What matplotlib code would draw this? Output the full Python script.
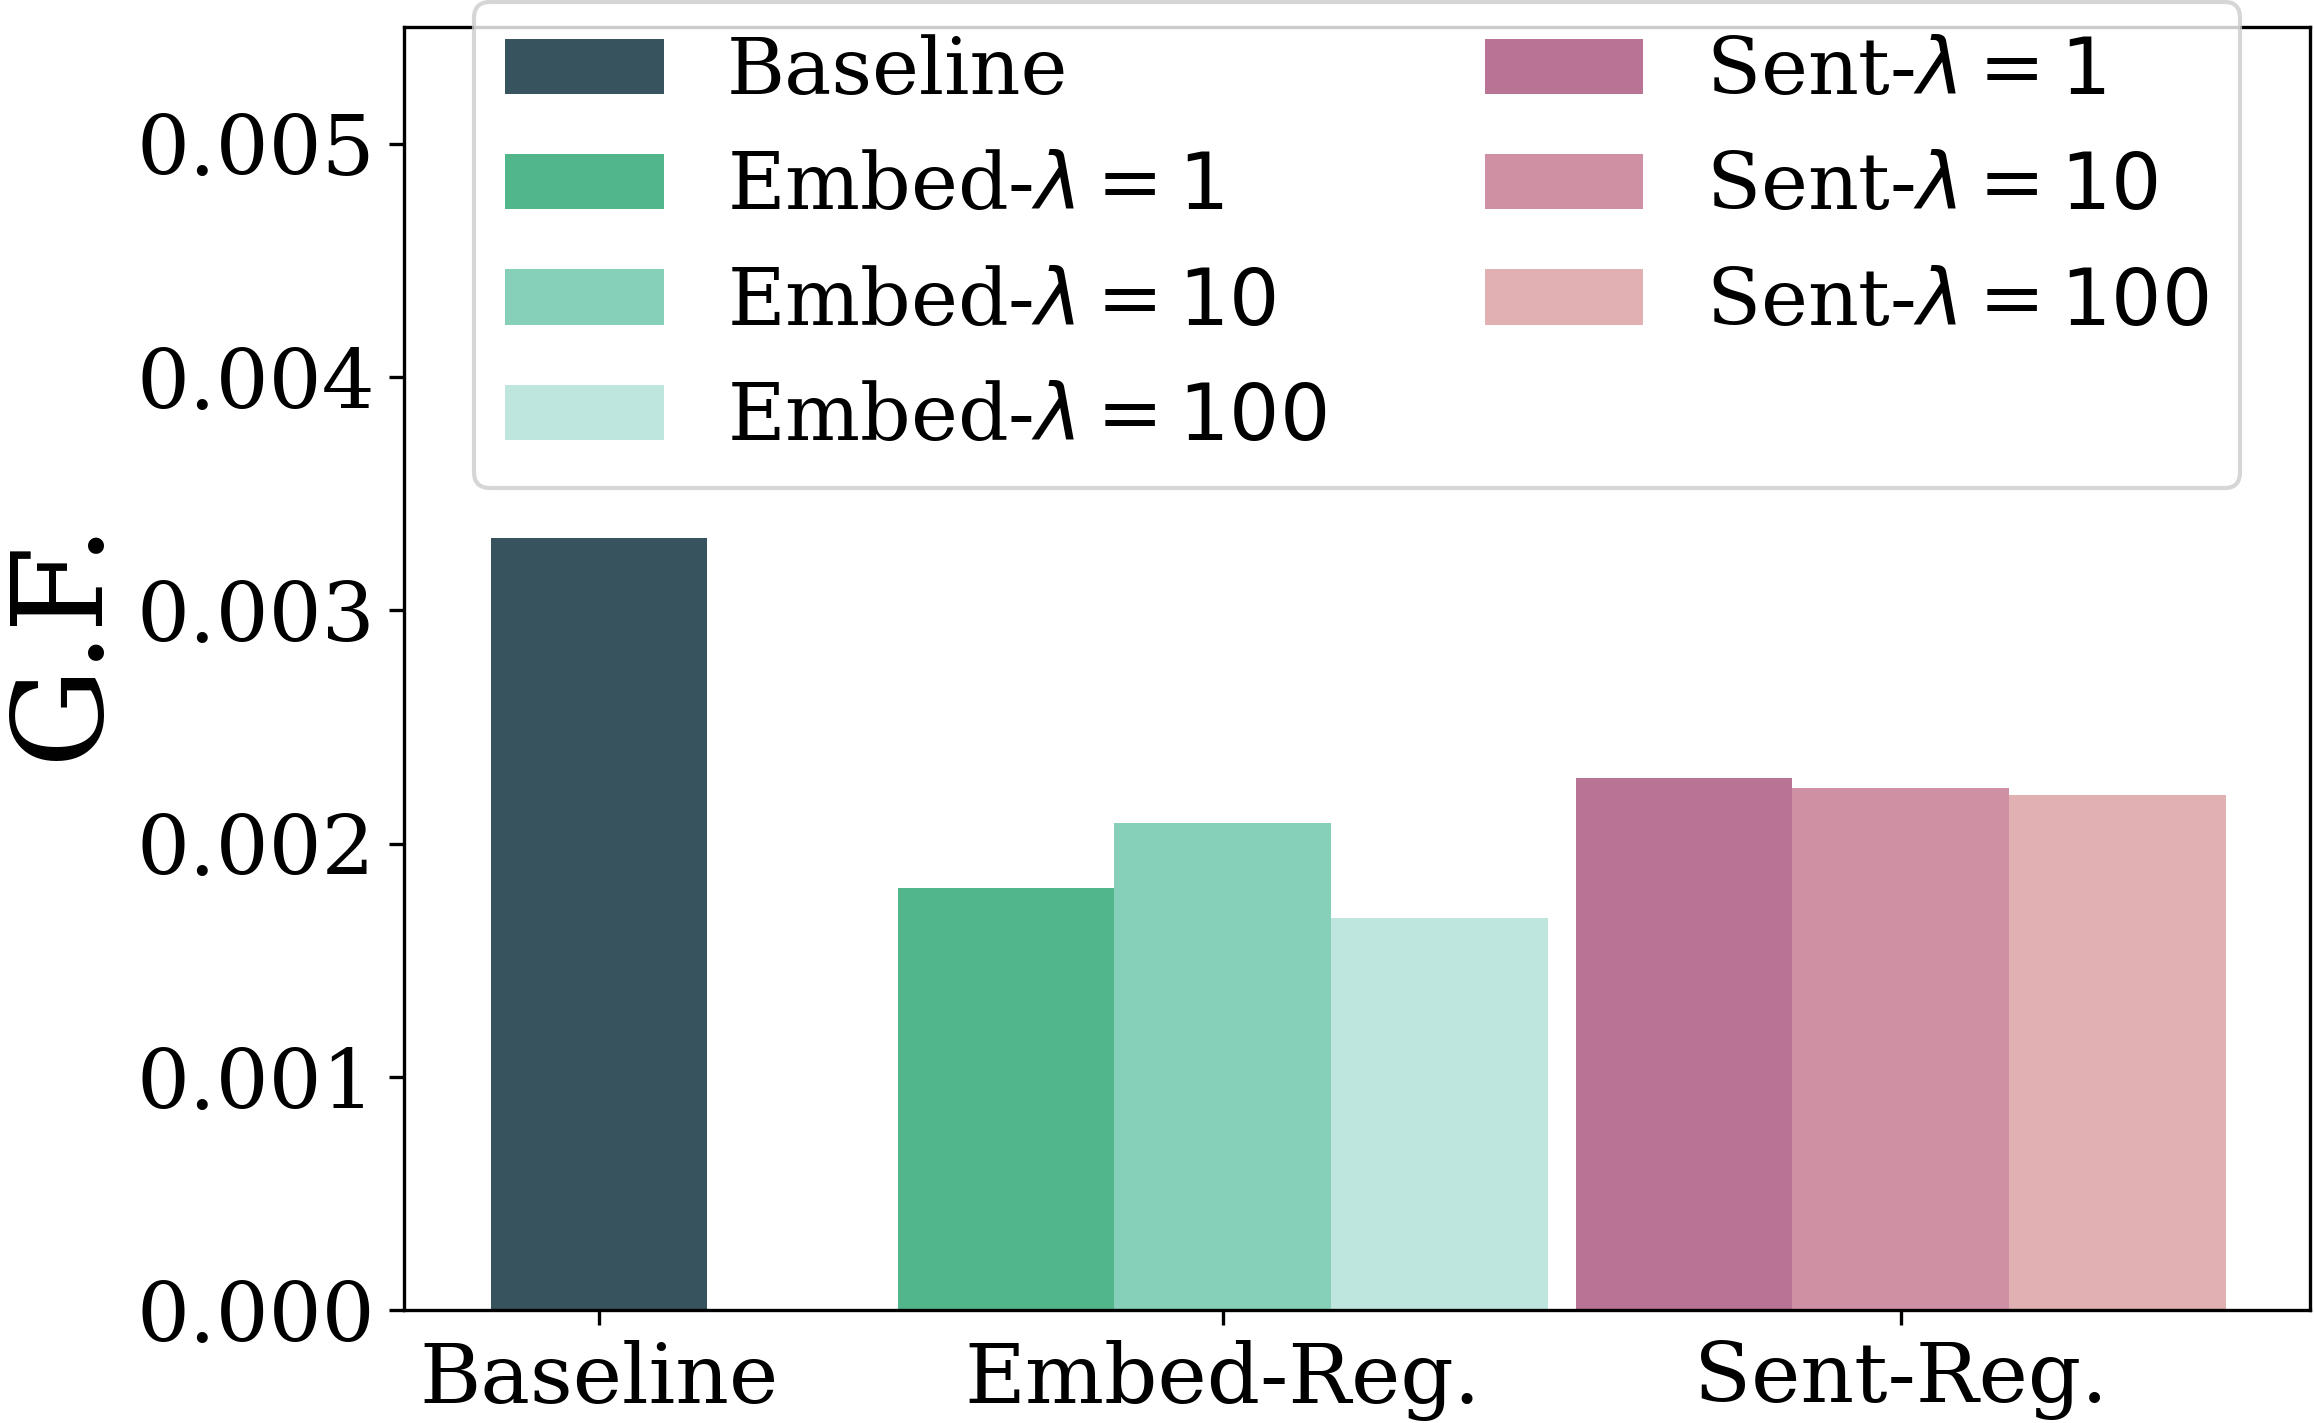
import numpy as np
import matplotlib
matplotlib.use('Agg')
import matplotlib.pyplot as plt

plt.rcParams['font.family'] = 'DejaVu Serif'
plt.rcParams['mathtext.fontset'] = 'dejavusans'

# data
groups = ['Baseline', 'Embed-Reg.', 'Sent-Reg.']
labels = ['Baseline',
          r'Embed-$\lambda=1$', r'Embed-$\lambda=10$', r'Embed-$\lambda=100$',
          r'Sent-$\lambda=1$', r'Sent-$\lambda=10$', r'Sent-$\lambda=100$']
values = [0.00331,
          0.00181, 0.00209, 0.00168,
          0.00228, 0.00224, 0.00221]
group_of = [0, 1, 1, 1, 2, 2, 2]
colors = ['#37535e',
          '#52b68b', '#86cfb8', '#bee6de',
          '#b87395', '#d090a4', '#e1b0b3']

# bar layout (bar width = 1)
group_start = [0.0, 1.88, 5.01]
xs = []
for i, g in enumerate(group_of):
    k = group_of[:i].count(g)
    xs.append(group_start[g] + k)
xs = np.array(xs)

fig = plt.figure(figsize=(2314 / 300, 1423 / 300), dpi=300)
ax = fig.add_axes([0.1746, 0.0791, 0.8237, 0.9019])

for x, v, c, lab in zip(xs, values, colors, labels):
    ax.bar(x, v, width=1.0, color=c, label=lab)

ticks = [np.mean(xs[np.array(group_of) == g]) for g in range(3)]
ax.set_xticks(ticks)
ax.set_xticklabels(groups, fontsize=20)
ax.set_yticks([0.0, 0.001, 0.002, 0.003, 0.004, 0.005])
ax.set_yticklabels(['0.000', '0.001', '0.002', '0.003', '0.004', '0.005'], fontsize=20)
ax.set_xlim(-0.9, 7.9)
ax.set_ylim(0, 0.0055)

ax.set_ylabel('G.F.', fontsize=30)
ax.yaxis.set_label_coords(-0.148, 0.523)

ax.legend(ncol=2, loc='upper center', bbox_to_anchor=(0.5, 1.050), fontsize=19)

fig.savefig('out.png', dpi=300)
